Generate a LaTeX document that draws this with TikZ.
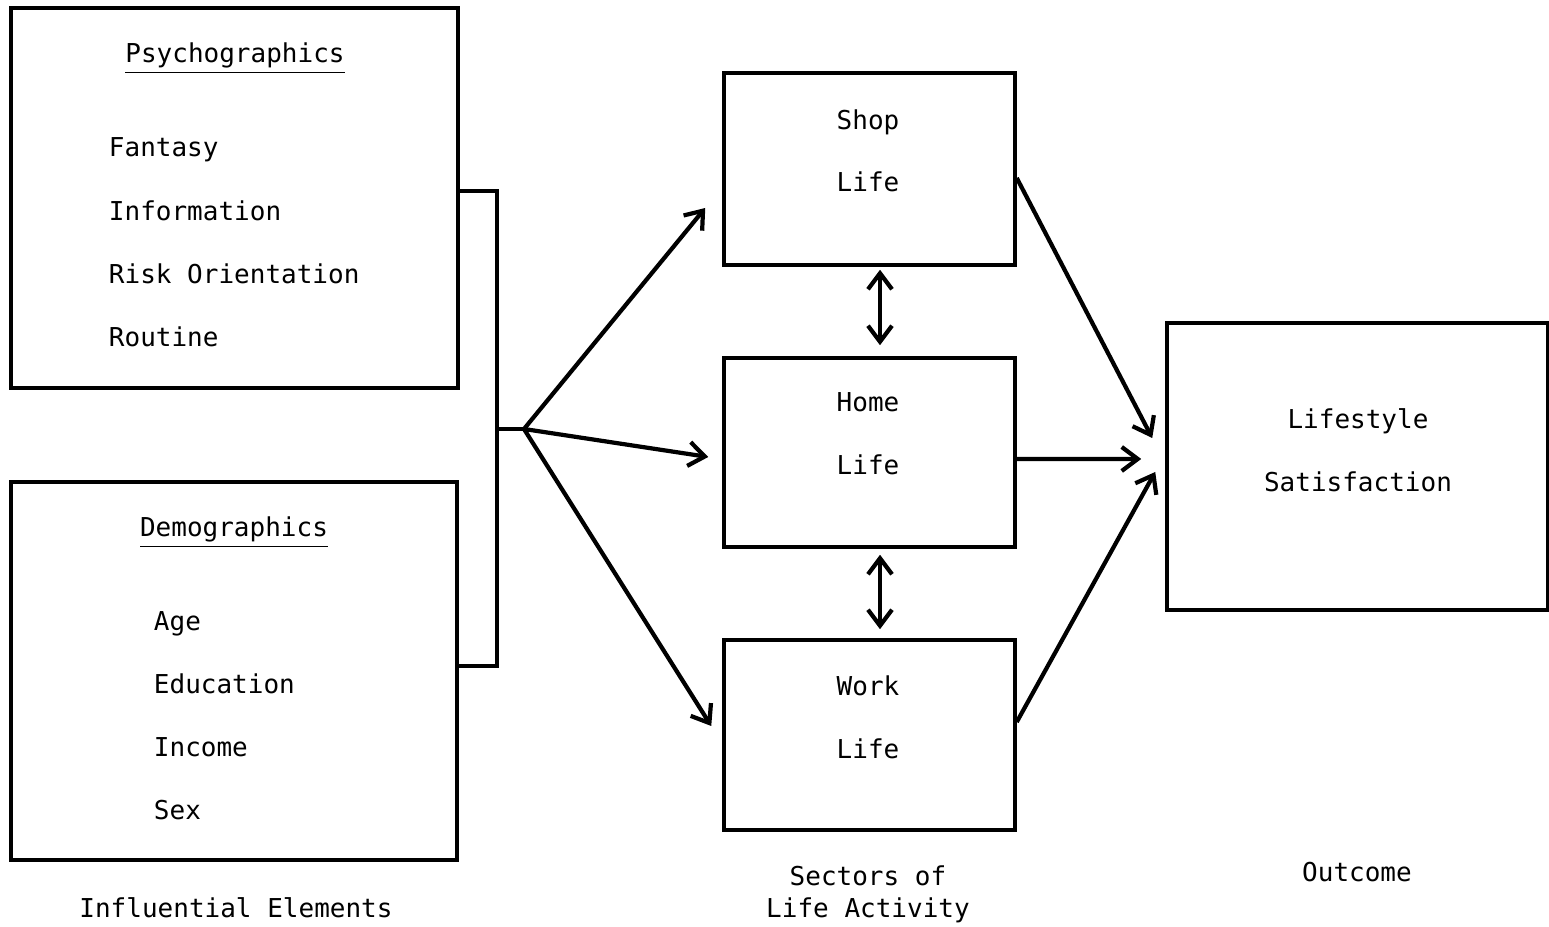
\documentclass[tikz,border=0pt]{standalone}
\usepackage{fontspec}
\setmonofont{DejaVu Sans Mono}
\usetikzlibrary{positioning, calc, arrows.meta}
\tikzset{
        sector-box/.style={
            rectangle, draw, line width=1pt, inner sep=0pt
        },
        item-text/.style={
            anchor=base west, inner sep=0pt, font=\ttfamily\fontsize{7.4}{9}\selectfont
        },
        title-text/.style={
            anchor=base, inner sep=0pt, font=\ttfamily\fontsize{7.4}{9}\selectfont
        },
        flow-arrow/.style={
            -{Straight Barb[length=1.6mm, width=2.4mm]}, line width=1.2pt
        },
        both-arrow/.style={
            {Straight Barb[length=1.6mm, width=2.4mm]}-{Straight Barb[length=1.6mm, width=2.4mm]}, line width=1.2pt
        },
}

\begin{document}
\begin{tikzpicture}

        \useasboundingbox (0,0) rectangle (15.49,-9.27);

        % DRAW BOXES
        \node[sector-box, minimum width=4.47cm, minimum height=3.80cm] (psych) at (2.345,-1.98)   {};
        \node[sector-box, minimum width=4.46cm, minimum height=3.78cm] (demo)  at (2.34,-6.71)    {};
        \node[sector-box, minimum width=2.91cm, minimum height=1.92cm] (shop)  at (8.695,-1.69)   {};
        \node[sector-box, minimum width=2.91cm, minimum height=1.89cm] (home)  at (8.695,-4.525)  {};
        \node[sector-box, minimum width=2.91cm, minimum height=1.90cm] (work)  at (8.695,-7.35)   {};
        \node[sector-box, minimum width=3.81cm, minimum height=2.87cm] (out)   at (13.575,-4.665) {};

        % TEXT IN THE LEFT BOXES
        \node[title-text] (psych-t) at ($(psych.north)+(0.005,-0.56)$)      {$\underline{\hbox{Psychographics}}$};
        \node[item-text]  (fant)    at ($(psych.north west)+(0.99,-1.50)$)  {Fantasy};
        \node[item-text]  (info)    at ($(psych.north west)+(0.99,-2.14)$)  {Information};
        \node[item-text]  (risk)    at ($(psych.north west)+(0.99,-2.77)$)  {Risk Orientation};
        \node[item-text]  (rout)    at ($(psych.north west)+(0.99,-3.40)$)  {Routine};

        \node[title-text] (demo-t)  at ($(demo.north)+(0,-0.56)$)           {$\underline{\hbox{Demographics}}$};
        \node[item-text]  (age)     at ($(demo.north west)+(1.44,-1.50)$)   {Age};
        \node[item-text]  (edu)     at ($(demo.north west)+(1.44,-2.13)$)   {Education};
        \node[item-text]  (inc)     at ($(demo.north west)+(1.44,-2.76)$)   {Income};
        \node[item-text]  (sex)     at ($(demo.north west)+(1.44,-3.39)$)   {Sex};

        % TEXT IN THE SECTOR AND OUTCOME BOXES
        \node[title-text] (shop-a)  at ($(shop.north)+(-0.015,-0.58)$)      {Shop};
        \node[title-text] (shop-b)  at ($(shop.north)+(-0.015,-1.20)$)      {Life};
        \node[title-text] (home-a)  at ($(home.north)+(-0.015,-0.55)$)      {Home};
        \node[title-text] (home-b)  at ($(home.north)+(-0.015,-1.18)$)      {Life};
        \node[title-text] (work-a)  at ($(work.north)+(-0.015,-0.57)$)      {Work};
        \node[title-text] (work-b)  at ($(work.north)+(-0.015,-1.20)$)      {Life};
        \node[title-text] (out-a)   at ($(out.north)+(0.005,-1.07)$)        {Lifestyle};
        \node[title-text] (out-b)   at ($(out.north)+(0.005,-1.70)$)        {Satisfaction};

        % COLUMN LABELS
        \node[title-text] (lab1)    at (2.36,-9.18)   {Influential Elements};
        \node[title-text] (lab2a)   at (8.68,-8.86)   {Sectors of};
        \node[title-text] (lab2b)   at (8.68,-9.18)   {Life Activity};
        \node[title-text] (lab3)    at (13.57,-8.82)  {Outcome};

        % BRACKET JOINING THE LEFT BOXES
        \coordinate (br-top) at ($(psych.east)+(0,0.07)$);
        \coordinate (br-bot) at ($(demo.east)+(0,0.05)$);
        \coordinate (br-mid) at (4.97,-4.29);
        \coordinate (hub)    at (5.24,-4.29);
        \draw [line width=1.2pt] (br-top) -- (br-top -| br-mid) -- (br-bot -| br-mid) -- (br-bot);
        \draw [line width=1.2pt] (br-mid) -- (hub);

        % ARROWS INTO THE SECTORS
        \draw [flow-arrow] (hub) -- ($(shop.west)+(-0.17,-0.39)$);
        \draw [flow-arrow] (hub) -- ($(home.west)+(-0.14,-0.045)$);
        \draw [flow-arrow] (hub) -- ($(work.west)+(-0.11,0.09)$);

        % ARROWS BETWEEN THE SECTORS
        \draw [both-arrow] ($(shop.south)+(0.105,-0.03)$) -- ($(home.north)+(0.105,0.11)$);
        \draw [both-arrow] ($(home.south)+(0.105,-0.06)$) -- ($(work.north)+(0.105,0.09)$);

        % ARROWS INTO THE OUTCOME
        \draw [flow-arrow] ($(shop.east)+(0,-0.09)$)  -- ($(out.west)+(-0.13,0.285)$);
        \draw [flow-arrow] ($(home.east)+(0,-0.065)$) -- ($(out.west)+(-0.24,0.075)$);
        \draw [flow-arrow] ($(work.east)+(0,0.13)$)   -- ($(out.west)+(-0.10,-0.055)$);

\end{tikzpicture}
\end{document}
